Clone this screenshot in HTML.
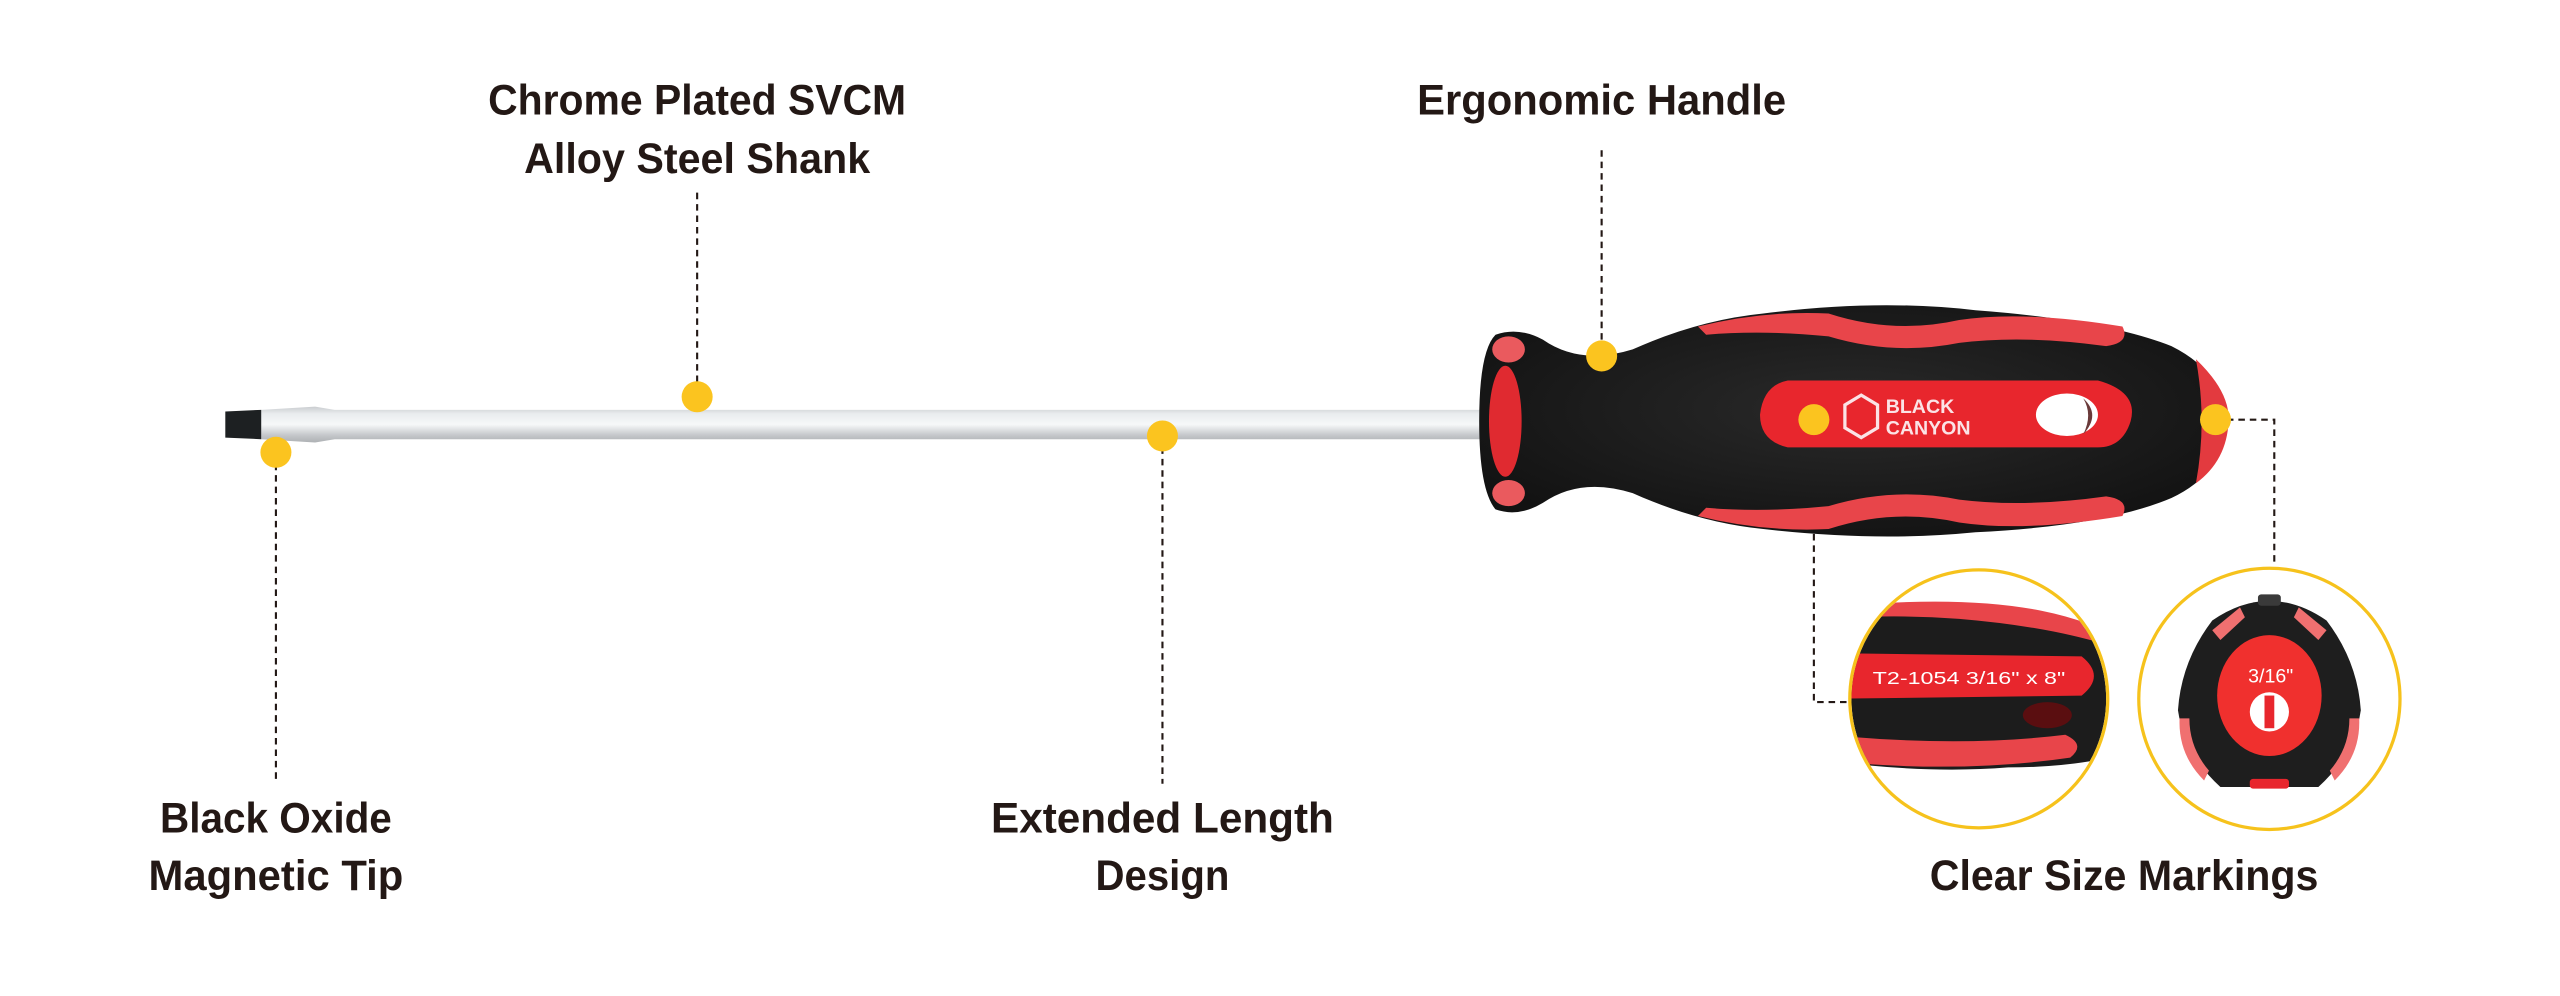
<!DOCTYPE html>
<html><head><meta charset="utf-8"><style>
html,body{margin:0;padding:0;background:#fff;}
svg{display:block;}
text{font-family:"Liberation Sans",sans-serif;font-weight:bold;fill:#231815;}
</style></head><body>
<svg width="2560" height="996" viewBox="0 0 1568 610" preserveAspectRatio="none" xmlns="http://www.w3.org/2000/svg">
<defs>
<linearGradient id="sh" x1="0" y1="0" x2="0" y2="1">
<stop offset="0" stop-color="#c9cccf"/><stop offset="0.2" stop-color="#e9ecee"/><stop offset="0.5" stop-color="#f6f8f9"/><stop offset="0.8" stop-color="#c4c7ca"/><stop offset="1" stop-color="#aeb1b4"/>
</linearGradient>
<radialGradient id="blk" cx="0.5" cy="0.45" r="0.6"><stop offset="0" stop-color="#2a2a2a"/><stop offset="1" stop-color="#121212"/></radialGradient>
<clipPath id="c1"><circle cx="1212" cy="428" r="78"/></clipPath>
<clipPath id="c2"><circle cx="1390" cy="428" r="79"/></clipPath>
</defs>

<text x="427" y="70" text-anchor="middle" font-size="26" textLength="256" lengthAdjust="spacingAndGlyphs">Chrome Plated SVCM</text>
<text x="427" y="106" text-anchor="middle" font-size="26" textLength="212" lengthAdjust="spacingAndGlyphs">Alloy Steel Shank</text>
<text x="981" y="70" text-anchor="middle" font-size="26" textLength="226" lengthAdjust="spacingAndGlyphs">Ergonomic Handle</text>
<text x="169" y="510" text-anchor="middle" font-size="26" textLength="142" lengthAdjust="spacingAndGlyphs">Black Oxide</text>
<text x="169" y="545" text-anchor="middle" font-size="26" textLength="156" lengthAdjust="spacingAndGlyphs">Magnetic Tip</text>
<text x="712" y="510" text-anchor="middle" font-size="26" textLength="210" lengthAdjust="spacingAndGlyphs">Extended Length</text>
<text x="712" y="545" text-anchor="middle" font-size="26" textLength="82" lengthAdjust="spacingAndGlyphs">Design</text>
<text x="1301" y="545" text-anchor="middle" font-size="26" textLength="238" lengthAdjust="spacingAndGlyphs">Clear Size Markings</text>

<g stroke="#231815" stroke-width="1.3" stroke-dasharray="4,3" fill="none">
<path d="M427 118V243"/>
<path d="M981 92V218"/>
<path d="M169 277V480"/>
<path d="M712 267V480"/>
<path d="M1111 257V430H1135"/>
<path d="M1357 257H1393V345"/>
</g>

<path d="M160 251 L193 249 L205 251 L910 251 L910 269 L205 269 L193 271 L160 269 Z" fill="url(#sh)"/>
<path d="M138 252 L160 251 L160 269 L138 268 Z" fill="#1d2022"/>

<path d="M916 205 Q930 200 945 208 Q968 224 1000 214 Q1040 196 1080 192 Q1150 183 1210 190 Q1290 196 1330 212 Q1362 228 1365 258 Q1362 290 1330 305 Q1290 322 1210 326 Q1150 332 1080 324 Q1040 320 1000 302 Q968 292 945 308 Q930 317 916 312 Q906 300 906 258 Q906 215 916 205 Z" fill="url(#blk)"/>
<path d="M1040 200 Q1080 190 1120 192 Q1160 205 1200 196 Q1240 190 1300 200 Q1305 210 1290 212 Q1240 205 1200 210 Q1160 218 1120 206 Q1080 202 1045 205 Z" fill="#e8454a"/>
<path d="M1040 316 Q1080 326 1120 324 Q1160 311 1200 320 Q1240 326 1300 316 Q1305 306 1290 304 Q1240 311 1200 306 Q1160 298 1120 310 Q1080 314 1045 311 Z" fill="#e8454a"/>
<path d="M1345 220 Q1366 240 1365 258 Q1364 282 1345 296 Q1352 258 1345 220 Z" fill="#e33a3f"/>
<ellipse cx="922" cy="258" rx="10" ry="34" fill="#e02a30"/>
<ellipse cx="924" cy="214" rx="10" ry="8" fill="#ea5a5e"/>
<ellipse cx="924" cy="302" rx="10" ry="8" fill="#ea5a5e"/>
<path d="M1095 233 L1285 233 Q1310 240 1305 258 Q1300 274 1285 274 L1095 274 Q1078 270 1078 254 Q1080 236 1095 233 Z" fill="#e8262d"/>
<ellipse cx="1266" cy="254" rx="19" ry="13" fill="#fff"/>
<path d="M1276 244 Q1287 254 1276 266 Q1282 254 1276 244Z" fill="#6a3a3a"/>
<polygon points="1140,242 1150,248 1150,262 1140,268 1130,262 1130,248" fill="none" stroke="#fbe3e6" stroke-width="2"/>
<text x="1155" y="253" font-size="12" style="fill:#fbe3e6">BLACK</text>
<text x="1155" y="266" font-size="12" style="fill:#fbe3e6">CANYON</text>

<g fill="#fbc41f">
<circle cx="427" cy="243" r="9.5"/><circle cx="981" cy="218" r="9.5"/><circle cx="169" cy="277" r="9.5"/>
<circle cx="712" cy="267" r="9.5"/><circle cx="1111" cy="257" r="9.5"/><circle cx="1357" cy="257" r="9.5"/>
</g>

<g clip-path="url(#c1)">
<path d="M1120 374 Q1200 366 1250 376 Q1280 384 1300 396 L1300 462 Q1270 470 1230 470 Q1180 474 1120 466 Z" fill="#1c1c1c"/>
<path d="M1120 372 Q1200 364 1250 374 Q1280 380 1300 392 L1300 398 Q1260 384 1200 379 Q1160 376 1120 379Z" fill="#e8454a"/>
<path d="M1120 400 L1275 402 Q1290 414 1275 426 L1120 428 Z" fill="#e8262d"/>
<path d="M1120 450 Q1200 458 1265 450 Q1278 456 1268 464 Q1200 474 1120 466Z" fill="#e8454a"/>
<ellipse cx="1254" cy="438" rx="15" ry="8" fill="#5a0e10"/>
<text x="1147" y="419" font-size="11" textLength="118" lengthAdjust="spacingAndGlyphs" style="fill:#fff;font-weight:normal">T2-1054  3/16" x 8"</text>
</g>
<circle cx="1212" cy="428" r="79" fill="none" stroke="#f6c21c" stroke-width="2"/>

<g clip-path="url(#c2)">
<path d="M1355 380 Q1390 356 1425 380 Q1444 405 1446 435 Q1442 462 1420 482 L1360 482 Q1338 462 1334 435 Q1336 405 1355 380Z" fill="#1e1e1e"/>
<rect x="1383" y="364" width="14" height="7" rx="2" fill="#3a3a3a"/>
<ellipse cx="1390" cy="426" rx="32" ry="37" fill="#f0302e"/>
<path d="M1335 440 Q1334 462 1350 478 L1353 472 Q1341 458 1341 440Z" fill="#f07070"/>
<path d="M1445 440 Q1446 462 1430 478 L1427 472 Q1439 458 1439 440Z" fill="#f07070"/>
<path d="M1355 386 L1372 372 L1375 378 L1360 392Z" fill="#f07070"/>
<path d="M1425 386 L1408 372 L1405 378 L1420 392Z" fill="#f07070"/>
<rect x="1378" y="477" width="24" height="6" rx="2" fill="#e8262d"/>
<circle cx="1390" cy="436" r="12" fill="#fff"/>
<rect x="1387" y="426" width="6" height="20" fill="#e8262d"/>
<text x="1377" y="418" font-size="12" style="fill:#fff;font-weight:normal">3/16"</text>
</g>
<circle cx="1390" cy="428" r="80" fill="none" stroke="#f6c21c" stroke-width="2"/>
</svg>
</body></html>
